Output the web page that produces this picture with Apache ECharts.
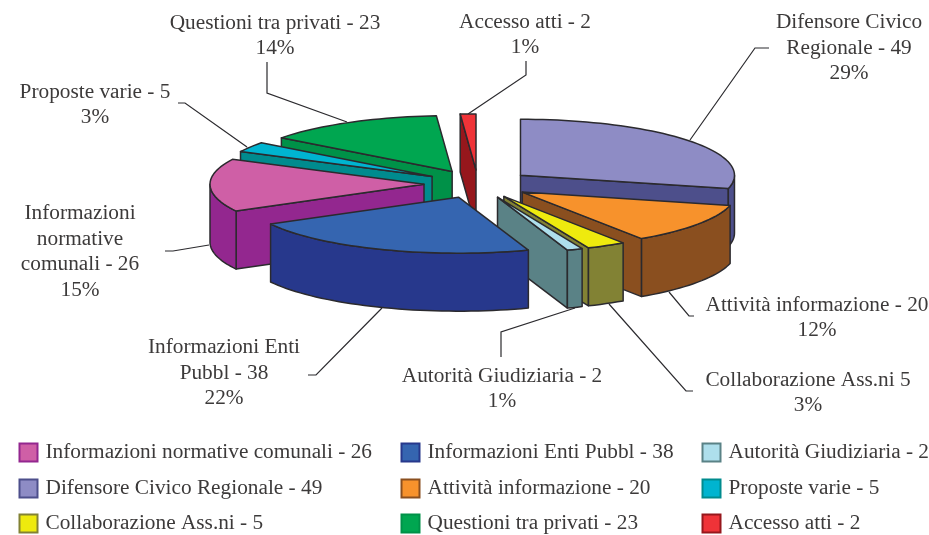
<!DOCTYPE html>
<html>
<head>
<meta charset="utf-8">
<style>
  html, body { margin: 0; padding: 0; background: #fff; }
  #chart { width: 929px; height: 535px; }
</style>
<script src="https://cdn.jsdelivr.net/npm/echarts@6/dist/echarts.min.js"></script>
</head>
<body>
<div id="chart"></div>
<script>
// clockwise from 12 o'clock
var categories = ['Difensore Civico Regionale', 'Attività informazione', 'Collaborazione Ass.ni', 'Autorità Giudiziaria',
  'Informazioni Enti Pubbl', 'Informazioni normative comunali', 'Proposte varie', 'Questioni tra privati', 'Accesso atti'];
var values = [49, 20, 5, 2, 38, 26, 5, 23, 2];
var labels = ['Difensore Civico\nRegionale - 49\n29%', 'Attività informazione - 20\n12%', 'Collaborazione Ass.ni 5\n3%',
  'Autorità Giudiziaria - 2\n1%', 'Informazioni Enti\nPubbl - 38\n22%', 'Informazioni\nnormative\ncomunali - 26\n15%',
  'Proposte varie - 5\n3%', 'Questioni tra privati - 23\n14%', 'Accesso atti - 2\n1%'];
var topColors = ['#8e8cc5', '#f7922c', '#eeea0e', '#aedfec', '#3565b0', '#cf5fa6', '#00b4d0', '#00a650', '#ef3338'];
var wallColors = ['#4d4f8b', '#8a4f1f', '#828234', '#5a8286', '#27388c', '#93278f', '#008b8e', '#009148', '#96171c'];
var legendColumns = [[5, 0, 2], [4, 1, 7], [3, 6, 8]];

// page layout of the 3d pie
var CX = 478, CY = 184, RX = 214, RY = 56, DEPTH = 58, EXPLODE = 54;
var labelPos = [[849, 48], [817, 318], [808, 393], [502, 389], [224, 373], [80, 252], [95, 105], [275, 36], [525, 35]];
var leaders = [
  [[769, 48], [755, 48], [690, 140]],
  [[694, 316], [689, 316], [669, 292]],
  [[693, 391], [686, 391], [609, 304]],
  [[501, 357], [501, 332], [575, 308]],
  [[308, 375], [316, 375], [382, 308]],
  [[165, 251], [173, 251], [209, 245]],
  [[178, 103], [185, 103], [247, 147]],
  [[267, 62], [267, 93], [347, 122]],
  [[526, 61], [526, 75], [468, 114]]
];
var legendLeft = [18.5, 400.5, 701.5];
var legendTop = [442, 478, 513];
var LINE = '#2b2a2e';
var FONT = '"Liberation Serif", serif';

var total = values.reduce(function (a, b) { return a + b; }, 0);
var rad = Math.PI / 180;

function arcPoints(cx, cy, from, to, drop) {
  var pts = [];
  var n = Math.max(2, Math.ceil(Math.abs(to - from) / 2));
  for (var i = 0; i <= n; i++) {
    var a = (from + (to - from) * i / n) * rad;
    pts.push([cx + RX * Math.sin(a), cy - RY * Math.cos(a) + drop]);
  }
  return pts;
}

function renderSlice(params, api) {
  var s = api.value(0), e = api.value(1), i = api.value(2);
  var mid = (s + e) / 2 * rad;
  var cx = CX + EXPLODE * Math.sin(mid);
  var cy = CY - EXPLODE * (RY / RX) * Math.cos(mid);
  var children = [];
  function face(points, fill) {
    children.push({
      type: 'polygon',
      shape: { points: points },
      style: { fill: fill, stroke: LINE, lineWidth: 1.5, lineJoin: 'round' }
    });
  }
  function wall(a) {
    var p = arcPoints(cx, cy, a, a, 0)[0];
    face([[cx, cy], p, [p[0], p[1] + DEPTH], [cx, cy + DEPTH]], wallColors[i]);
  }
  // only the walls that turn toward the viewer
  if (Math.sin(s * rad) < -1e-6) wall(s);
  if (Math.sin(e * rad) > 1e-6) wall(e);
  var from = Math.max(s, 90), to = Math.min(e, 270);
  if (to > from) {
    face(arcPoints(cx, cy, from, to, 0).concat(arcPoints(cx, cy, to, from, DEPTH)), wallColors[i]);
  }
  face([[cx, cy]].concat(arcPoints(cx, cy, s, e, 0)), topColors[i]);
  return { type: 'group', children: children };
}

// slices furthest from the front go first
var slices = [];
var sum = 0;
values.forEach(function (v, i) {
  var start = sum / total * 360;
  sum += v;
  slices.push({ index: i, start: start, end: sum / total * 360 });
});
slices.sort(function (a, b) {
  return Math.abs((b.start + b.end) / 2 - 180) - Math.abs((a.start + a.end) / 2 - 180);
});

function seriesName(i) { return categories[i] + ' - ' + values[i]; }

var graphics = [];
leaders.forEach(function (pts) {
  graphics.push({ type: 'polyline', z: 1, shape: { points: pts }, style: { fill: null, stroke: LINE, lineWidth: 1.2 } });
});
labels.forEach(function (text, i) {
  graphics.push({
    type: 'text', z: 5, x: labelPos[i][0], y: labelPos[i][1],
    style: { text: text, font: '21.3px ' + FONT, fill: '#3c3a3a', align: 'center', verticalAlign: 'middle', lineHeight: 25.5 }
  });
});

// one legend per cell, the 3x3 grid does not fit a single vertical legend
var legends = [];
legendColumns.forEach(function (col, c) {
  col.forEach(function (idx, r) {
    legends.push({
      left: legendLeft[c], top: legendTop[r], padding: 0,
      itemWidth: 18, itemHeight: 18, selectedMode: false,
      textStyle: { fontFamily: FONT, fontSize: 21.3, color: '#3c3a3a', padding: [0, 0, 0, 3] },
      data: [{ name: seriesName(idx), icon: 'rect' }]
    });
  });
});

var chart = echarts.init(document.getElementById('chart'));
chart.setOption({
  animation: false,
  backgroundColor: '#fff',
  graphic: graphics,
  legend: legends,
  series: slices.map(function (sl) {
    return {
      type: 'custom',
      name: seriesName(sl.index),
      coordinateSystem: 'none',
      silent: true,
      z: 3,
      itemStyle: { color: topColors[sl.index], borderColor: wallColors[sl.index], borderWidth: 1.5 },
      renderItem: renderSlice,
      data: [[sl.start, sl.end, sl.index]]
    };
  })
});
</script>
</body>
</html>
